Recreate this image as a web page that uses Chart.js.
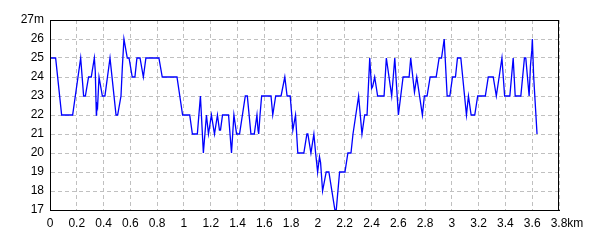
<!DOCTYPE html>
<html>
<head>
<meta charset="utf-8">
<script src="https://cdn.jsdelivr.net/npm/chart.js@4.4.1/dist/chart.umd.min.js"></script>
<style>
  body { margin: 0; background: #ffffff; }
</style>
</head>
<body>
<canvas id="profileChart" width="600" height="240"></canvas>
<script>
// Avstånd (km) och höjd (m) avlästa från profilen
const distKm = [
  0.000, 0.042, 0.087, 0.169, 0.229, 0.251, 0.264, 0.288, 0.308, 0.331,
  0.338, 0.346, 0.348, 0.355, 0.366, 0.391, 0.410, 0.448, 0.493, 0.505,
  0.530, 0.540, 0.552, 0.577, 0.590, 0.614, 0.634, 0.649, 0.672, 0.697,
  0.716, 0.813, 0.838, 0.948, 0.990, 1.043, 1.063, 1.100, 1.123, 1.145,
  1.168, 1.183, 1.205, 1.228, 1.250, 1.265, 1.273, 1.288, 1.333, 1.355,
  1.373, 1.393, 1.415, 1.458, 1.473, 1.500, 1.525, 1.545, 1.553, 1.558,
  1.568, 1.580, 1.650, 1.663, 1.685, 1.725, 1.753, 1.770, 1.793, 1.805,
  1.813, 1.833, 1.850, 1.895, 1.918, 1.925, 1.948, 1.970, 1.983, 1.998,
  2.012, 2.020, 2.035, 2.062, 2.082, 2.127, 2.137, 2.162, 2.202, 2.224,
  2.247, 2.262, 2.304, 2.329, 2.349, 2.367, 2.387, 2.401, 2.409, 2.424,
  2.446, 2.494, 2.511, 2.551, 2.574, 2.601, 2.636, 2.681, 2.693, 2.721,
  2.738, 2.780, 2.795, 2.815, 2.838, 2.883, 2.905, 2.923, 2.943, 2.965,
  2.985, 3.005, 3.027, 3.042, 3.067, 3.109, 3.124, 3.144, 3.171, 3.193,
  3.250, 3.272, 3.309, 3.332, 3.374, 3.394, 3.433, 3.458, 3.473, 3.515,
  3.542, 3.552, 3.577, 3.587, 3.597, 3.601, 3.611, 3.636
];
const elevM = [
  25, 25, 22, 22, 25, 23, 23, 24, 24, 25,
  24.3, 22, 22.6, 22.4, 24, 23, 23, 25, 22, 22,
  23, 24.5, 26, 25, 25, 24, 24, 25, 25, 24,
  25, 25, 24, 24, 22, 22, 21, 21, 23, 20,
  22, 21, 22, 21, 22, 21.2, 21.2, 22, 22, 20,
  22, 21, 21, 23, 23, 21, 21, 22, 21.2, 21,
  22, 23, 23, 22, 23, 23, 24, 23, 23, 22,
  21.2, 22, 20, 20, 21, 21, 20, 21, 20, 19,
  19.8, 19.5, 18, 19, 19, 17, 17, 19, 19, 20,
  20, 21, 23, 21, 22, 22, 25, 23.4, 23.5, 24,
  23, 23, 25, 23, 25, 22, 24, 24, 25, 23.2,
  24, 22, 23, 23, 24, 24, 25, 25, 26, 23,
  23, 24, 24, 25, 25, 22, 23, 22, 22, 23,
  23, 24, 24, 23, 25, 23, 23, 25, 23, 23,
  25, 25, 23, 24.6, 25.4, 26, 24, 21
];

// Axlar
const xMin = 0, xMax = 3.8, xStep = 0.2;
const yMin = 17, yMax = 27, yStep = 1;
const xUnit = 'km';
const yUnit = 'm';

const tickFont = { family: 'Liberation Sans', size: 12, lineHeight: 1.2 };
const xTickPadding = 6;

// Ram runt plottytan + enhet efter sista x-etiketten
const framePlugin = {
  id: 'frame',
  afterDraw(chart) {
    const { ctx, chartArea: a, scales } = chart;
    ctx.save();
    ctx.strokeStyle = '#000000';
    ctx.lineWidth = 1;
    ctx.strokeRect(a.left + 0.5, a.top + 0.5, a.right - a.left - 1, a.bottom - a.top);
    // "km" efter "3.8", samma mittlinje som etiketterna
    ctx.font = tickFont.size + 'px ' + tickFont.family;
    ctx.fillStyle = '#000000';
    ctx.textBaseline = 'middle';
    ctx.textAlign = 'left';
    const lastLabel = String(xMax);
    const px = scales.x.getPixelForValue(xMax) + ctx.measureText(lastLabel).width / 2;
    const py = scales.x.top + xTickPadding + tickFont.size * tickFont.lineHeight / 2;
    ctx.fillText(xUnit, px, py);
    ctx.restore();
  }
};

const ctx = document.getElementById('profileChart').getContext('2d');
const profileChart = new Chart(ctx, {
  type: 'line',
  data: {
    datasets: [{
      data: distKm.map((d, i) => ({ x: d, y: elevM[i] })),
      borderColor: '#0000ff',
      borderWidth: 1.3,
      pointRadius: 0,
      tension: 0,
      fill: false
    }]
  },
  options: {
    responsive: false,
    animation: false,
    layout: { padding: { top: 20, right: 41, left: 0, bottom: 0 } },
    plugins: { legend: { display: false }, tooltip: { enabled: false } },
    scales: {
      x: {
        type: 'linear',
        min: xMin,
        max: xMax,
        afterFit: s => { s.height = 30; },
        ticks: {
          stepSize: xStep,
          color: '#000000',
          font: tickFont,
          padding: xTickPadding,
          maxRotation: 0,
          autoSkip: false,
          callback: v => String(Math.round(v * 10) / 10)
        },
        grid: { color: '#c0c0c0', drawTicks: false },
        border: { color: '#000000', width: 1, dash: [4, 3] }
      },
      y: {
        min: yMin,
        max: yMax,
        afterFit: s => { s.width = 50; },
        ticks: {
          stepSize: yStep,
          color: '#000000',
          font: tickFont,
          padding: 6,
          callback: v => v === yMax ? v + yUnit : String(v)
        },
        grid: { color: '#c0c0c0', drawTicks: false },
        border: { color: '#000000', width: 1, dash: [4, 3] }
      }
    }
  },
  plugins: [framePlugin]
});
</script>
</body>
</html>
